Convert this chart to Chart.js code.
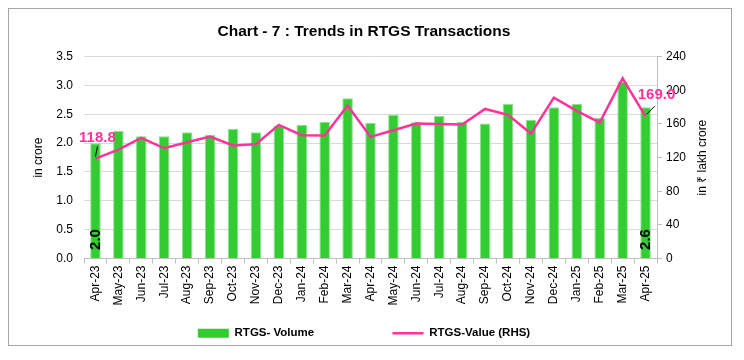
<!DOCTYPE html>
<html>
<head>
<meta charset="utf-8">
<script src="https://cdn.jsdelivr.net/npm/chart.js@4.4.1/dist/chart.umd.min.js"></script>
<style>
	html, body { margin: 0; padding: 0; background: #fff; }
	#wrap { position: relative; width: 744px; height: 360px; }
	#frame { position: absolute; left: 8px; top: 8px; width: 722px; height: 336px; border: 1px solid #a6a6a6; }
	canvas { position: absolute; left: 0; top: 0; }
</style>
</head>
<body>
<div id="wrap">
	<div id="frame"></div>
	<canvas id="rtgs-chart" width="744" height="360"></canvas>
</div>
<script>
( function () {
	'use strict';

	var months = [
		'Apr-23', 'May-23', 'Jun-23', 'Jul-23', 'Aug-23', 'Sep-23', 'Oct-23', 'Nov-23',
		'Dec-23', 'Jan-24', 'Feb-24', 'Mar-24', 'Apr-24', 'May-24', 'Jun-24', 'Jul-24',
		'Aug-24', 'Sep-24', 'Oct-24', 'Nov-24', 'Dec-24', 'Jan-25', 'Feb-25', 'Mar-25', 'Apr-25'
	];

	// RTGS volume, in crore (left axis)
	var volume = [
		2.0, 2.21, 2.12, 2.12, 2.19, 2.14, 2.25, 2.19,
		2.3, 2.32, 2.37, 2.78, 2.35, 2.49, 2.36, 2.47,
		2.37, 2.34, 2.68, 2.4, 2.62, 2.68, 2.44, 3.07, 2.62
	];

	// RTGS value, in lakh crore (right axis)
	var value = [
		118.8, 129.5, 143.4, 131.0, 138.2, 145.0, 134.3, 135.8,
		158.8, 146.5, 146.1, 181.8, 144.6, 152.5, 160.4, 160.0,
		159.2, 177.8, 170.7, 148.5, 191.3, 175.4, 161.6, 214.2, 169.0
	];

	var volumeTicks = { min: 0, max: 3.5, step: 0.5 };
	var valueTicks = { min: 0, max: 240, step: 40 };

	var GREEN = '#33cc33';
	var PINK = '#ff3399';
	var FONT = "'Liberation Sans', Arial, sans-serif";
	var RIGHT_TITLE = 'in ₹ lakh crore';

	// labels on first and last points, like the Excel original
	var endLabels = {
		id: 'endLabels',
		afterDatasetsDraw: function ( chart ) {
			var ctx = chart.ctx;
			var bars = chart.getDatasetMeta( 0 ).data;
			var line = chart.getDatasetMeta( 1 ).data;
			var y = chart.scales.y;
			var y1 = chart.scales.y1;
			var last = months.length - 1;

			ctx.save();
			ctx.textAlign = 'center';
			ctx.textBaseline = 'middle';

			// right axis title reads bottom-up, like the left one
			ctx.fillStyle = '#000';
			ctx.font = '12px ' + FONT;
			ctx.save();
			ctx.translate( y1.left + 46, ( y1.top + y1.bottom ) / 2 );
			ctx.rotate( -Math.PI / 2 );
			ctx.fillText( RIGHT_TITLE, 0, 0 );
			ctx.restore();

			// volume labels, rotated, at the foot of the bar
			ctx.font = 'bold 15px ' + FONT;
			[ 0, last ].forEach( function ( i ) {
				ctx.save();
				ctx.translate( bars[ i ].x, y.bottom - 19 );
				ctx.rotate( -Math.PI / 2 );
				ctx.fillText( volume[ i ].toFixed( 1 ), 0, 0 );
				ctx.restore();
			} );

			// value labels with leader lines
			ctx.fillStyle = PINK;
			ctx.strokeStyle = '#000';
			ctx.lineWidth = 1;

			var p0 = line[ 0 ];
			ctx.fillText( value[ 0 ].toFixed( 1 ), p0.x + 2, p0.y - 21 );
			ctx.beginPath();
			ctx.moveTo( p0.x + 2, p0.y - 12 );
			ctx.lineTo( p0.x, p0.y - 2 );
			ctx.stroke();

			var pn = line[ last ];
			ctx.fillText( value[ last ].toFixed( 1 ), pn.x + 11, pn.y - 21 );
			ctx.beginPath();
			ctx.moveTo( pn.x + 9, pn.y - 10 );
			ctx.lineTo( pn.x + 1, pn.y - 2 );
			ctx.stroke();

			ctx.restore();
		}
	};

	new Chart( document.getElementById( 'rtgs-chart' ), {
		type: 'bar',
		data: {
			labels: months,
			datasets: [
				{
					type: 'bar',
					label: 'RTGS- Volume',
					data: volume,
					yAxisID: 'y',
					backgroundColor: GREEN,
					borderColor: '#8fe08f',
					borderWidth: 1,
					borderSkipped: 'bottom',
					barPercentage: 0.46,
					categoryPercentage: 1,
					order: 2
				},
				{
					type: 'line',
					label: 'RTGS-Value (RHS)',
					data: value,
					yAxisID: 'y1',
					borderColor: PINK,
					backgroundColor: PINK,
					borderWidth: 2.5,
					pointRadius: 0,
					tension: 0,
					order: 1
				}
			]
		},
		options: {
			responsive: false,
			animation: false,
			layout: {
				padding: { left: 10, right: 26, top: 0, bottom: 11 }
			},
			plugins: {
				tooltip: { enabled: false },
				title: {
					display: true,
					text: 'Chart - 7 : Trends in RTGS Transactions',
					color: '#000',
					font: { family: FONT, size: 15.5, weight: 'bold' },
					padding: { top: 22, bottom: 16 }
				},
				legend: {
					position: 'bottom',
					labels: {
						color: '#000',
						font: { family: FONT, size: 11.5, weight: 'bold' },
						usePointStyle: true,
						pointStyleWidth: 31,
						boxHeight: 9,
						padding: 8,
						generateLabels: function ( chart ) {
							var items = Chart.defaults.plugins.legend.labels.generateLabels( chart );
							items.sort( function ( a, b ) { return a.datasetIndex - b.datasetIndex; } );
							items[ 0 ].pointStyle = 'rect';
							items[ 0 ].lineWidth = 0;
							// wide gap between the two entries, as in the original
							items[ 0 ].text = items[ 0 ].text + '                      ';
							items[ 1 ].pointStyle = 'line';
							items[ 1 ].lineWidth = 2.5;
							items[ 1 ].strokeStyle = PINK;
							return items;
						}
					}
				}
			},
			scales: {
				x: {
					grid: {
						offset: true,
						drawOnChartArea: false,
						drawTicks: true,
						tickLength: 5,
						color: '#bfbfbf'
					},
					border: { display: true, color: '#bfbfbf' },
					ticks: {
						color: '#000',
						font: { family: FONT, size: 12 },
						maxRotation: 90,
						minRotation: 90,
						autoSkip: false,
						padding: 2
					},
					afterFit: function ( scale ) {
						scale.height = 61;
					}
				},
				y: {
					position: 'left',
					min: volumeTicks.min,
					max: volumeTicks.max,
					grid: { color: '#d9d9d9', drawTicks: false },
					border: { display: false },
					ticks: {
						stepSize: volumeTicks.step,
						color: '#000',
						font: { family: FONT, size: 12 },
						padding: 11,
						callback: function ( v ) { return v.toFixed( 1 ); }
					},
					title: {
						display: true,
						text: 'in crore',
						color: '#000',
						font: { family: FONT, size: 12 },
						padding: { top: 21, bottom: 0 }
					},
					afterFit: function ( scale ) {
						scale.width = 74;
					}
				},
				y1: {
					position: 'right',
					min: valueTicks.min,
					max: valueTicks.max,
					grid: { drawOnChartArea: false, tickLength: 5, color: '#bfbfbf' },
					border: { display: true, color: '#bfbfbf' },
					ticks: {
						stepSize: valueTicks.step,
						color: '#000',
						font: { family: FONT, size: 12 },
						padding: 4
					},
					afterFit: function ( scale ) {
						scale.width = 61;
					}
				}
			}
		},
		plugins: [ endLabels ]
	} );
}() );
</script>
</body>
</html>
